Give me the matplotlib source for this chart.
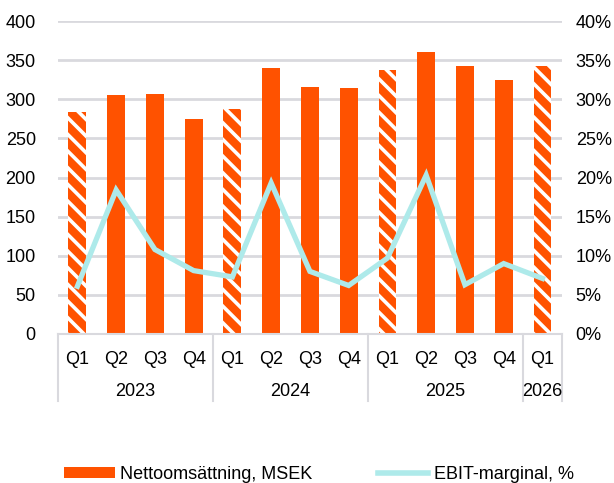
import numpy as np
import matplotlib
matplotlib.use('Agg')
import matplotlib.pyplot as plt
import matplotlib.transforms as mtransforms
from matplotlib.patches import Patch
from matplotlib.lines import Line2D

plt.rcParams['font.family'] = ['Liberation Sans', 'DejaVu Sans']
plt.rcParams['hatch.linewidth'] = 2.6

# data
quarters = ['Q1', 'Q2', 'Q3', 'Q4', 'Q1', 'Q2', 'Q3', 'Q4', 'Q1', 'Q2', 'Q3', 'Q4', 'Q1']
years = ['2023', '2024', '2025', '2026']
year_counts = [4, 4, 4, 1]
sales = [284, 306, 307, 275, 287, 340, 316, 315, 337, 360, 342, 325, 343]
ebit_margin = [6.1, 18.4, 10.8, 8.1, 7.3, 19.3, 8.0, 6.2, 9.7, 20.3, 6.3, 9.0, 7.1]
hatched = [True, False, False, False, True, False, False, False, True, False, False, False, True]

orange = '#FF5200'
cyan = '#AEEAEA'
grid_c = '#D9D9DE'
fs = 13

fig = plt.figure(figsize=(6.14, 4.83), dpi=100)
ax = fig.add_axes([0.0945, 0.3085, 0.8205, 0.648])
ax2 = ax.twinx()

x = np.arange(len(sales))
for xi, v, h in zip(x, sales, hatched):
    if h:
        ax.bar(xi, v, width=0.46, color=orange, edgecolor='white', linewidth=0, hatch='\\\\', zorder=2)
    else:
        ax.bar(xi, v, width=0.46, color=orange, linewidth=0, zorder=2)

ax2.plot(x, ebit_margin, color=cyan, linewidth=3.8, solid_joinstyle='miter', zorder=3)

ax.set_xlim(-0.5, len(sales) - 0.5)
ax.set_ylim(0, 400)
ax.set_yticks(range(0, 401, 50))
ax2.set_ylim(0, 40)
ax2.set_yticks(range(0, 41, 5))
ax2.set_yticklabels([f'{t}%' for t in range(0, 41, 5)])

ax.yaxis.grid(True, color=grid_c, linewidth=2)
ax.set_axisbelow(True)
for a in (ax, ax2):
    for s in a.spines.values():
        s.set_visible(False)
    a.tick_params(axis='y', length=0, labelsize=fs, colors='black')
ax.tick_params(axis='y', pad=16)
ax2.tick_params(axis='y', pad=10)
ax.spines['bottom'].set_visible(True)
ax.spines['bottom'].set_color(grid_c)
ax.spines['bottom'].set_linewidth(1.5)

ax.set_xticks(x)
ax.set_xticklabels(quarters)
ax.tick_params(axis='x', length=0, labelsize=fs, pad=12)

# year level of the category axis
trans = mtransforms.blended_transform_factory(ax.transData, ax.transAxes)
bounds = np.concatenate([[0], np.cumsum(year_counts)]) - 0.5
for b in bounds:
    ax.plot([b, b], [0, -0.215], transform=trans, color=grid_c, linewidth=1.5, clip_on=False)
for yr, lo, hi in zip(years, bounds[:-1], bounds[1:]):
    ax.text((lo + hi) / 2, -0.183, yr, transform=trans, ha='center', va='center', fontsize=fs)

handles = [Patch(facecolor=orange, edgecolor='none'),
           Line2D([0], [0], color=cyan, linewidth=4)]
fig.legend(handles, ['Nettoomsättning, MSEK', 'EBIT-marginal, %'], loc='lower left',
           bbox_to_anchor=(0.105, 0.0), ncol=2, frameon=False, fontsize=fs,
           handlelength=2.8, handleheight=0.55, handletextpad=0.3, columnspacing=3.6,
           borderpad=0, borderaxespad=0)

fig.savefig('out.png', dpi=100)
